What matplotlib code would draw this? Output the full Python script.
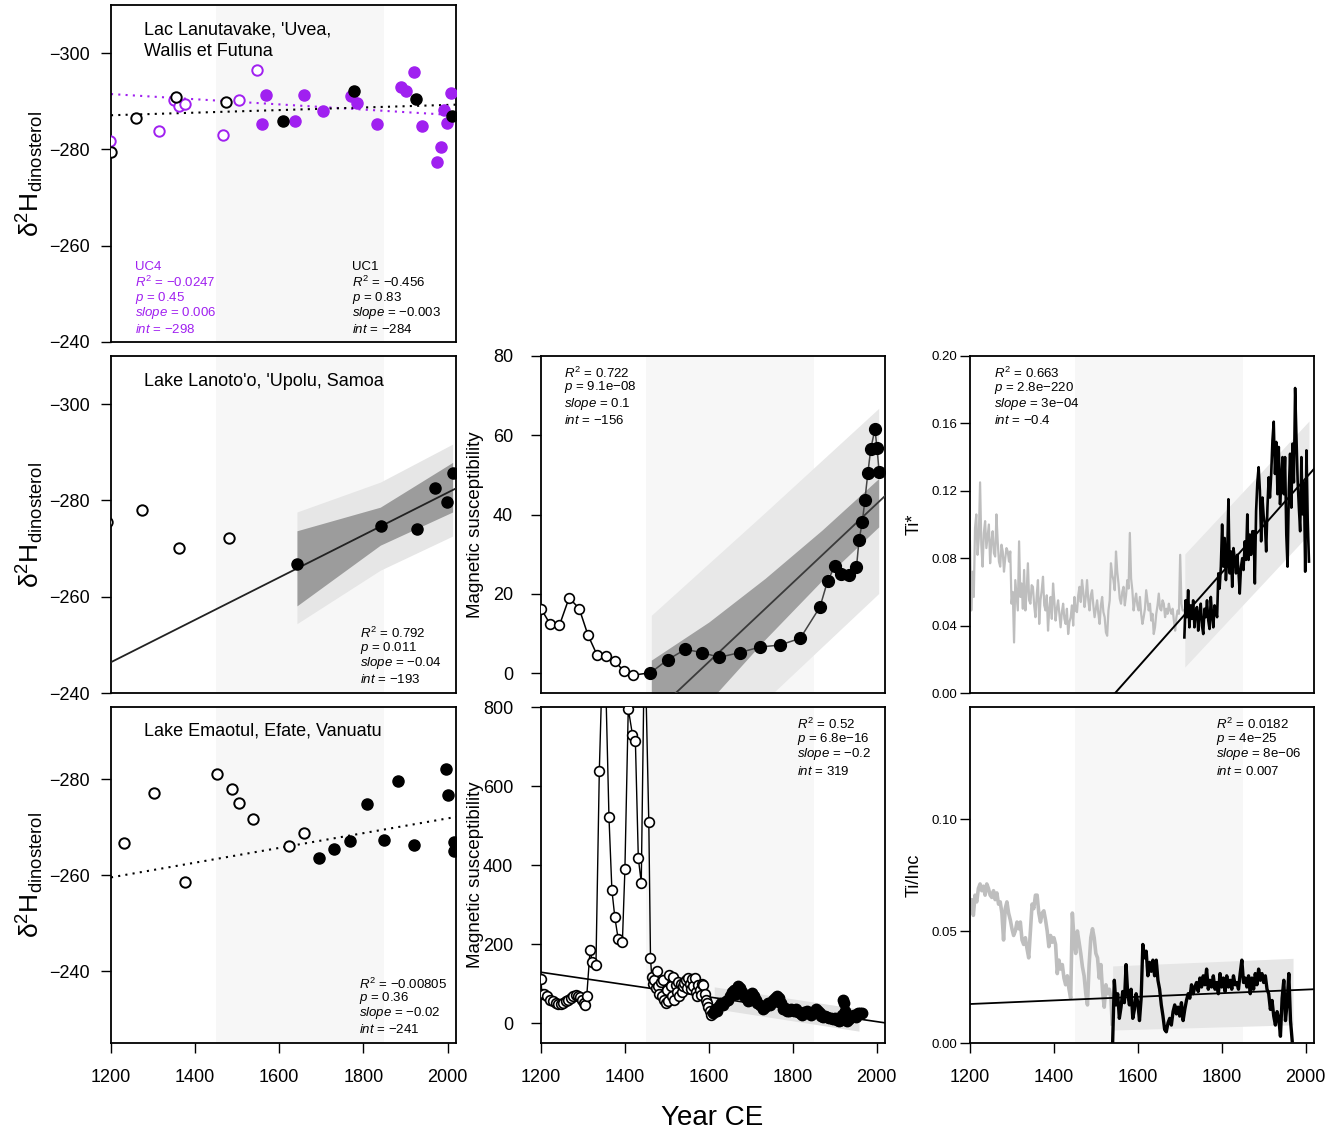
import matplotlib
matplotlib.use('Agg')
import matplotlib.pyplot as plt

plt.rcParams['font.family'] = ['Liberation Sans', 'DejaVu Sans']
plt.rcParams['mathtext.fontset'] = 'custom'
plt.rcParams['mathtext.rm'] = 'Liberation Sans'
plt.rcParams['mathtext.it'] = 'Liberation Sans:italic'
plt.rcParams['mathtext.bf'] = 'Liberation Sans:bold'
plt.rcParams['axes.unicode_minus'] = True

# ---------------- DATA ----------------
FIT_YR = [1200, 2020]
SHADE = [1450, 1850]

# Lac Lanutavake
lan_uc1_open_yr = [1201, 1259, 1354, 1474]
lan_uc1_open_d = [-279.4, -286.6, -290.8, -289.9]
lan_uc1_fill_yr = [1608, 1777, 1926, 2010]
lan_uc1_fill_d = [-286.0, -292.2, -290.5, -286.9]
lan_uc4_open_yr = [1197, 1313, 1350, 1362, 1376, 1466, 1504, 1547]
lan_uc4_open_d = [-281.7, -283.9, -290.3, -289.1, -289.5, -282.9, -290.2, -296.6]
lan_uc4_fill_yr = [1560, 1569, 1637, 1659, 1704, 1770, 1785, 1833, 1890, 1901,
                   1920, 1939, 1975, 1985, 1992, 1999, 2007]
lan_uc4_fill_d = [-285.3, -291.3, -286.0, -291.4, -288.0, -291.2, -289.7, -285.2,
                  -293.0, -292.1, -296.1, -284.8, -277.3, -280.6, -288.2, -285.5, -291.8]
lan_uc4_fit = [-291.5, -287.1]
lan_uc1_fit = [-287.1, -289.3]

# Lake Lanoto'o
lnt_open_yr = [1190, 1273, 1362, 1480]
lnt_open_d = [-275.5, -278.0, -270.2, -272.1]
lnt_fill_yr = [1642, 1841, 1927, 1971, 1998, 2012]
lnt_fill_d = [-266.7, -274.7, -274.1, -282.5, -279.7, -285.6]
lnt_fit = [-246.4, -282.5]
lnt_band_yr = [1642, 1840, 2012]
lnt_in_lo = [-258.1, -270.7, -277.6]
lnt_in_hi = [-273.7, -278.6, -287.9]
lnt_out_lo = [-254.4, -265.5, -272.6]
lnt_out_hi = [-277.6, -283.8, -291.7]

# Lake Emaotul
ema_open_yr = [1231, 1302, 1377, 1452, 1488, 1505, 1538, 1623, 1658]
ema_open_d = [-266.7, -277.0, -258.6, -281.0, -277.9, -275.0, -271.6, -266.1, -268.7]
ema_fill_yr = [1695, 1729, 1768, 1808, 1848, 1883, 1919, 1996, 2001, 2015, 2015]
ema_fill_d = [-263.6, -265.5, -267.1, -274.8, -267.2, -279.5, -266.3, -282.0, -276.7, -266.9, -265.1]
ema_fit = [-259.5, -272.1]

# Magnetic susceptibility, Lanoto'o
ms1_open_yr = [1200, 1221, 1244, 1267, 1291, 1312, 1334, 1356, 1377, 1397, 1419]
ms1_open = [16.3, 12.5, 12.1, 19.0, 16.3, 9.6, 4.5, 4.3, 3.0, 0.5, -0.5]
ms1_fill_yr = [1461, 1502, 1544, 1584, 1625, 1674, 1722, 1770, 1818, 1865, 1883, 1901,
               1916, 1934, 1952, 1958, 1966, 1972, 1979, 1986, 1996, 2001, 2006]
ms1_fill = [0.1, 3.4, 6.0, 5.2, 4.0, 5.2, 6.6, 7.1, 8.8, 16.7, 23.2, 27.1,
            24.9, 24.7, 26.7, 33.5, 38.2, 43.6, 50.4, 56.5, 61.6, 56.7, 50.8]
ms1_fit = [-37.0, 44.7]
ms1_out_yr = [1463, 1734, 2005]
ms1_out_hi = [14.6, 40.5, 66.8]
ms1_out_lo = [-33.9, -6.9, 20.1]
ms1_in_yr = [1463, 1600, 1734, 1870, 2005]
ms1_in_hi = [3.3, 12.9, 23.9, 36.1, 49.1]
ms1_in_lo = [-24.9, -7.2, 8.5, 23.4, 36.9]

# Magnetic susceptibility, Emaotul
ms2_open_yr = [1200, 1202, 1206, 1214, 1222, 1229, 1235, 1241, 1247, 1253, 1259, 1265,
               1271, 1277, 1283, 1289, 1294, 1298, 1302, 1306, 1309, 1317, 1322, 1331,
               1339, 1350, 1362, 1369, 1376, 1384, 1394, 1400, 1408, 1418, 1425, 1432,
               1439, 1447, 1457, 1461,
               1464, 1467, 1470, 1473, 1476, 1479, 1482, 1485, 1488, 1491, 1494, 1497,
               1500, 1503, 1506, 1509, 1512, 1515, 1518, 1521, 1524, 1527, 1530, 1533,
               1536, 1539, 1542, 1545, 1548, 1551, 1554, 1557, 1560, 1563, 1566, 1569,
               1572, 1575, 1578, 1581, 1584, 1587, 1590, 1593, 1596, 1599, 1602, 1605]
ms2_open = [112, 73, 75, 68, 60, 55, 50, 48, 48, 52, 55, 60,
            65, 68, 72, 70, 66, 58, 50, 46, 68, 186, 156, 148,
            638, 1050, 522, 337, 268, 213, 205, 389, 796, 730, 713, 417,
            356, 1000, 508, 165,
            118, 100, 110, 88, 131, 95, 75, 104, 70, 110, 60, 50,
            85, 55, 123, 95, 70, 118, 60, 96, 80, 104, 70, 100,
            79, 95, 103, 109, 90, 114, 100, 86, 112, 95, 114, 80,
            69, 96, 85, 72, 98, 96, 75, 60, 50, 40, 30, 22]
ms2_fill_yr = [1609, 1614, 1619, 1625, 1630, 1635, 1640, 1645, 1650, 1655, 1660, 1665,
               1670, 1675, 1680, 1685, 1689, 1694, 1699, 1704, 1708, 1712, 1716, 1722,
               1728, 1734, 1740, 1746, 1752, 1758, 1763, 1768, 1772, 1776, 1782, 1787,
               1792, 1797, 1802, 1808, 1813, 1818, 1823, 1828, 1834, 1839, 1844, 1849,
               1855, 1860, 1864, 1867, 1872, 1877, 1882, 1887, 1892, 1897, 1902, 1906,
               1910, 1914, 1918, 1920, 1922, 1924, 1926, 1930, 1935, 1940, 1945, 1950,
               1955, 1960, 1965]
ms2_fill = [26, 35, 30, 43, 50, 45, 55, 60, 70, 80, 85, 75,
            93, 90, 80, 70, 64, 55, 60, 77, 70, 60, 51, 45,
            35, 40, 51, 45, 60, 65, 68, 65, 50, 35, 38, 30,
            30, 35, 30, 35, 28, 25, 22, 28, 30, 26, 20, 28,
            35, 30, 25, 18, 15, 18, 15, 14, 12, 10, 12, 9,
            5, 8, 20, 60, 50, 30, 9, 5, 10, 18, 22, 15,
            25, 26, 27]
ms2_fit = [129, 1]
ms2_band_yr = [1613, 1958]
ms2_band_hi = [92, 36]
ms2_band_lo = [37, -20]

# Ti*, Lanoto'o (grey = before 1710, black = after)
tis_gray_yr = [1200, 1203, 1206, 1209, 1212, 1215, 1218, 1221, 1224, 1227,
               1230, 1233, 1236, 1239, 1242, 1245, 1248, 1251, 1254, 1257,
               1260, 1263, 1266, 1269, 1272, 1275, 1278, 1281, 1284, 1287,
               1290, 1293, 1296, 1299, 1302, 1305, 1308, 1311, 1314, 1317,
               1320, 1323, 1326, 1329, 1332, 1335, 1338, 1341, 1344, 1347,
               1350, 1353, 1356, 1359, 1362, 1365, 1368, 1371, 1374, 1377,
               1380, 1383, 1386, 1389, 1392, 1395, 1398, 1401, 1404, 1407,
               1410, 1413, 1416, 1419, 1422, 1425, 1428, 1431, 1434, 1437,
               1440, 1443, 1446, 1449, 1452, 1455, 1458, 1461, 1464, 1467,
               1470, 1473, 1476, 1479, 1482, 1485, 1488, 1491, 1494, 1497,
               1500, 1503, 1506, 1509, 1512, 1515, 1518, 1521, 1524, 1527,
               1530, 1533, 1536, 1539, 1542, 1545, 1548, 1551, 1554, 1557,
               1560, 1563, 1566, 1569, 1572, 1575, 1578, 1581, 1584, 1587,
               1590, 1593, 1596, 1599, 1602, 1605, 1608, 1611, 1614, 1617,
               1620, 1623, 1626, 1629, 1632, 1635, 1638, 1641, 1644, 1647,
               1650, 1653, 1656, 1659, 1662, 1665, 1668, 1671, 1674, 1677,
               1680, 1683, 1686, 1689, 1692, 1695, 1698, 1701, 1704, 1707,
               1710]
tis_gray = [0.090, 0.049, 0.072, 0.057, 0.098, 0.106, 0.082, 0.092, 0.125, 0.088,
            0.075, 0.095, 0.102, 0.086, 0.093, 0.100, 0.077, 0.090, 0.096, 0.083,
            0.081, 0.106, 0.090, 0.078, 0.075, 0.088, 0.084, 0.072, 0.080, 0.086,
            0.084, 0.078, 0.084, 0.053, 0.060, 0.030, 0.067, 0.058, 0.049, 0.090,
            0.057, 0.065, 0.050, 0.073, 0.049, 0.060, 0.077, 0.055, 0.053, 0.064,
            0.063, 0.052, 0.045, 0.058, 0.067, 0.041, 0.055, 0.061, 0.069, 0.052,
            0.049, 0.058, 0.037, 0.050, 0.057, 0.044, 0.065, 0.055, 0.043, 0.050,
            0.055, 0.047, 0.039, 0.048, 0.053, 0.044, 0.041, 0.050, 0.035, 0.042,
            0.045, 0.052, 0.040, 0.057, 0.049, 0.048, 0.058, 0.063, 0.054, 0.067,
            0.060, 0.051, 0.057, 0.067, 0.055, 0.049, 0.058, 0.061, 0.052, 0.045,
            0.050, 0.055, 0.047, 0.041, 0.052, 0.057, 0.048, 0.045, 0.036, 0.034,
            0.049, 0.055, 0.077, 0.070, 0.067, 0.061, 0.084, 0.072, 0.065, 0.056,
            0.053, 0.060, 0.063, 0.052, 0.058, 0.067, 0.062, 0.095, 0.068, 0.061,
            0.049, 0.055, 0.059, 0.052, 0.049, 0.057, 0.047, 0.041, 0.045, 0.050,
            0.061, 0.055, 0.049, 0.053, 0.043, 0.047, 0.035, 0.039, 0.047, 0.052,
            0.059, 0.050, 0.049, 0.055, 0.053, 0.045, 0.050, 0.047, 0.053, 0.049,
            0.047, 0.050, 0.043, 0.037, 0.045, 0.049, 0.047, 0.082, 0.053, 0.049,
            0.049]
tis_blk_yr = [1711, 1714, 1717, 1720, 1723, 1726, 1729, 1732, 1735, 1738,
              1741, 1744, 1747, 1750, 1753, 1756, 1759, 1762, 1765, 1768,
              1771, 1774, 1777, 1780, 1783, 1786, 1789, 1792, 1795, 1798,
              1801, 1804, 1807, 1810, 1813, 1816, 1819, 1822, 1825, 1828,
              1831, 1834, 1837, 1840, 1843, 1846, 1849, 1852, 1855, 1858,
              1861, 1864, 1867, 1870, 1873, 1876, 1879, 1882, 1885, 1888,
              1891, 1894, 1897, 1900, 1903, 1906, 1909, 1912, 1915, 1918,
              1921, 1924, 1927, 1930, 1933, 1936, 1939, 1942, 1945, 1948,
              1951, 1954, 1957, 1960, 1963, 1966, 1969, 1972, 1975, 1978,
              1981, 1984, 1987, 1990, 1993, 1996, 1999, 2002, 2005, 2008]
tis_blk = [0.033, 0.055, 0.045, 0.061, 0.039, 0.052, 0.044, 0.055, 0.039, 0.049,
           0.051, 0.037, 0.047, 0.053, 0.040, 0.035, 0.050, 0.045, 0.055, 0.043,
           0.038, 0.057, 0.046, 0.039, 0.052, 0.049, 0.045, 0.071, 0.062, 0.075,
           0.100, 0.075, 0.092, 0.067, 0.080, 0.115, 0.071, 0.084, 0.063, 0.086,
           0.080, 0.071, 0.082, 0.072, 0.059, 0.075, 0.080, 0.073, 0.090, 0.079,
           0.106, 0.079, 0.094, 0.082, 0.096, 0.096, 0.065, 0.108, 0.125, 0.134,
           0.120, 0.090, 0.116, 0.105, 0.100, 0.084, 0.110, 0.128, 0.116, 0.130,
           0.150, 0.161, 0.130, 0.149, 0.118, 0.146, 0.112, 0.126, 0.140, 0.118,
           0.140, 0.094, 0.075, 0.120, 0.142, 0.110, 0.148, 0.125, 0.181, 0.153,
           0.126, 0.110, 0.096, 0.140, 0.106, 0.125, 0.072, 0.144, 0.102, 0.078]
tis_fit = [-0.0971, 0.1330]
tis_band_yr = [1712, 2008]
tis_band_hi = [0.0825, 0.1614]
tis_band_lo = [0.0154, 0.0943]

# Ti/Inc, Emaotul (grey = before 1540, black = after)
tin_gray_yr = [1200, 1204, 1208, 1212, 1216, 1220, 1224, 1228, 1232, 1236,
               1240, 1244, 1248, 1252, 1256, 1260, 1264, 1268, 1272, 1276,
               1280, 1284, 1288, 1292, 1296, 1300, 1304, 1308, 1312, 1316,
               1320, 1324, 1328, 1332, 1336, 1340, 1344, 1348, 1352, 1356,
               1360, 1364, 1368, 1372, 1376, 1380, 1384, 1388, 1392, 1396,
               1400, 1404, 1408, 1412, 1416, 1420, 1424, 1428, 1432, 1436,
               1440, 1444, 1448, 1452, 1456, 1460, 1464, 1468, 1472, 1476,
               1480, 1484, 1488, 1492, 1496, 1500, 1504, 1508, 1512, 1516,
               1520, 1524, 1528, 1532, 1536, 1539]
tin_gray = [0.060, 0.064, 0.057, 0.066, 0.063, 0.069, 0.071, 0.068, 0.070, 0.066,
            0.071, 0.069, 0.066, 0.065, 0.068, 0.064, 0.067, 0.062, 0.063, 0.058,
            0.046, 0.060, 0.063, 0.058, 0.055, 0.051, 0.048, 0.050, 0.054, 0.051,
            0.054, 0.046, 0.044, 0.047, 0.042, 0.038, 0.050, 0.062, 0.060, 0.066,
            0.066, 0.058, 0.054, 0.058, 0.059, 0.055, 0.050, 0.043, 0.048, 0.045,
            0.047, 0.044, 0.031, 0.037, 0.033, 0.035, 0.029, 0.026, 0.030, 0.024,
            0.020, 0.058, 0.046, 0.040, 0.050, 0.045, 0.040, 0.034, 0.030, 0.022,
            0.017, 0.035, 0.047, 0.051, 0.047, 0.040, 0.038, 0.029, 0.035, 0.023,
            0.016, 0.026, 0.022, 0.024, 0.020, 0.0085]
tin_blk_yr = [1540, 1544, 1548, 1552, 1556, 1560, 1564, 1568, 1572, 1576,
              1580, 1584, 1588, 1592, 1596, 1600, 1604, 1608, 1612, 1616,
              1620, 1624, 1628, 1632, 1636, 1640, 1644, 1648, 1652, 1656,
              1660, 1664, 1668, 1672, 1676, 1680, 1684, 1688, 1692, 1696,
              1700, 1704, 1708, 1712, 1716, 1720, 1724, 1728, 1732, 1736,
              1740, 1744, 1748, 1752, 1756, 1760, 1764, 1768, 1772, 1776,
              1780, 1784, 1788, 1792, 1796, 1800, 1804, 1808, 1812, 1816,
              1820, 1824, 1828, 1832, 1836, 1840, 1844, 1848, 1852, 1856,
              1860, 1864, 1868, 1872, 1876, 1880, 1884, 1888, 1892, 1896,
              1900, 1904, 1908, 1912, 1916, 1920, 1924, 1928, 1932, 1936,
              1940, 1944, 1948, 1952, 1956, 1960, 1964, 1968]
tin_blk = [0.000, 0.028, 0.017, 0.022, 0.011, 0.016, 0.023, 0.018, 0.035, 0.022,
           0.017, 0.024, 0.011, 0.015, 0.022, 0.018, 0.010, 0.020, 0.044, 0.038,
           0.041, 0.030, 0.036, 0.032, 0.037, 0.030, 0.037, 0.028, 0.024, 0.017,
           0.012, 0.006, 0.005, 0.009, 0.011, 0.008, 0.014, 0.017, 0.013, 0.016,
           0.012, 0.018, 0.010, 0.015, 0.019, 0.022, 0.020, 0.026, 0.022, 0.025,
           0.027, 0.023, 0.029, 0.025, 0.030, 0.026, 0.033, 0.024, 0.028, 0.025,
           0.030, 0.024, 0.027, 0.022, 0.031, 0.025, 0.029, 0.023, 0.030, 0.025,
           0.028, 0.024, 0.030, 0.026, 0.027, 0.024, 0.031, 0.037, 0.027, 0.029,
           0.025, 0.030, 0.022, 0.029, 0.024, 0.031, 0.026, 0.033, 0.028, 0.031,
           0.027, 0.030, 0.024, 0.022, 0.015, 0.019, 0.012, 0.008, 0.014, 0.011,
           0.003, 0.020, 0.028, 0.010, 0.018, 0.031, 0.010, 0.001]
tin_fit = [0.0174, 0.0240]
tin_band_yr = [1540, 1970]
tin_band_hi = [0.0344, 0.0378]
tin_band_lo = [0.0058, 0.0081]

XTICKS = [1200, 1400, 1600, 1800, 2000]

# ---------------- FIGURE ----------------
W, H = 1339, 1136
fig = plt.figure(figsize=(W / 100, H / 100), dpi=100)

SHADE_C = '#f7f7f7'
PURPLE = '#a020f0'
GRAYLINE = '#bebebe'
STAT_FS = 9.5


def add_ax(x0, y0, x1, y1):
    return fig.add_axes([x0 / W, 1 - y1 / H, (x1 - x0) / W, (y1 - y0) / H])


def style(ax, bottom_row, ytick_size=13, ypad=8):
    for s in ax.spines.values():
        s.set_linewidth(1.3)
    ax.set_xlim(1200, 2020)
    ax.tick_params(axis='y', direction='out', length=7, width=1, labelsize=ytick_size, pad=ypad)
    if bottom_row:
        ax.set_xticks(XTICKS)
        ax.tick_params(axis='x', direction='out', length=7, width=1, labelsize=13, pad=12)
    else:
        ax.tick_params(axis='x', bottom=False, labelbottom=False)
    ax.axvspan(SHADE[0], SHADE[1], color=SHADE_C, lw=0, zorder=0)


def ftext(x, y, s, **kw):
    kw.setdefault('va', 'center')
    kw.setdefault('ha', 'left')
    fig.text(x / W, 1 - y / H, s, **kw)


def stats(x, ys, lines, color='black', size=STAT_FS):
    for y, s in zip(ys, lines):
        ftext(x, y, s, color=color, fontsize=size, va='baseline')


def open_pts(ax, x, y, color='black', ms=7.5, mew=1.4, z=4):
    ax.plot(x, y, 'o', ms=ms, mfc='white', mec=color, mew=mew, ls='none', zorder=z)


def fill_pts(ax, x, y, color='black', ms=8, z=5):
    ax.plot(x, y, 'o', ms=ms, mfc=color, mec=color, mew=1, ls='none', zorder=z)


# Panel A: Lac Lanutavake
axA = add_ax(111, 5, 456, 342)
style(axA, False)
axA.set_ylim(-240, -310)
axA.set_yticks([-300, -280, -260, -240])
axA.plot(FIT_YR, lan_uc4_fit, ls=(0, (1, 2.5)), color=PURPLE, lw=1.5, zorder=2)
axA.plot(FIT_YR, lan_uc1_fit, ls=(0, (1, 2.5)), color='black', lw=1.5, zorder=2)
open_pts(axA, lan_uc4_open_yr, lan_uc4_open_d, color=PURPLE)
fill_pts(axA, lan_uc4_fill_yr, lan_uc4_fill_d, color=PURPLE)
open_pts(axA, lan_uc1_open_yr, lan_uc1_open_d)
fill_pts(axA, lan_uc1_fill_yr, lan_uc1_fill_d)
ftext(144, 30, "Lac Lanutavake, 'Uvea,", fontsize=13)
ftext(144, 51, "Wallis et Futuna", fontsize=13)
stats(135, [270, 287, 301, 316, 333],
      ['UC4', r'$R^2$ = −0.0247', r'$p$ = 0.45', r'$slope$ = 0.006', r'$int$ = −298'], color=PURPLE)
stats(352, [270, 287, 301, 316, 333],
      ['UC1', r'$R^2$ = −0.456', r'$p$ = 0.83', r'$slope$ = −0.003', r'$int$ = −284'])

# Panel B: Lake Lanoto'o
axB = add_ax(111, 356, 456, 693)
style(axB, False)
axB.set_ylim(-240, -310)
axB.set_yticks([-300, -280, -260, -240])
axB.fill_between(lnt_band_yr, lnt_out_lo, lnt_out_hi, color='#e6e6e6', lw=0, zorder=1)
axB.fill_between(lnt_band_yr, lnt_in_lo, lnt_in_hi, color='#9c9c9c', lw=0, zorder=2)
axB.plot(FIT_YR, lnt_fit, color='#222222', lw=1.3, zorder=3)
open_pts(axB, lnt_open_yr, lnt_open_d)
fill_pts(axB, lnt_fill_yr, lnt_fill_d)
ftext(144, 381, "Lake Lanoto'o, 'Upolu, Samoa", fontsize=13)
stats(360, [638, 651, 666, 683],
      [r'$R^2$ = 0.792', r'$p$ = 0.011', r'$slope$ = −0.04', r'$int$ = −193'])

# Panel C: Lake Emaotul
axC = add_ax(111, 707, 456, 1043)
style(axC, True)
axC.set_ylim(-225, -295)
axC.set_yticks([-280, -260, -240])
axC.plot(FIT_YR, ema_fit, ls=(0, (1, 2.5)), color='black', lw=1.5, zorder=2)
open_pts(axC, ema_open_yr, ema_open_d)
fill_pts(axC, ema_fill_yr, ema_fill_d)
ftext(144, 731, "Lake Emaotul, Efate, Vanuatu", fontsize=13)
stats(359, [989, 1001, 1016, 1033],
      [r'$R^2$ = −0.00805', r'$p$ = 0.36', r'$slope$ = −0.02', r'$int$ = −241'])

# Panel D: magnetic susceptibility Lanoto'o
axD = add_ax(541, 356, 885, 693)
style(axD, False, ypad=13)
axD.set_ylim(-5, 80)
axD.set_yticks([0, 20, 40, 60, 80])
axD.fill_between(ms1_out_yr, ms1_out_lo, ms1_out_hi, color='#e8e8e8', lw=0, zorder=1)
axD.fill_between(ms1_in_yr, ms1_in_lo, ms1_in_hi, color='#a0a0a0', lw=0, zorder=2)
axD.plot(FIT_YR, ms1_fit, color='#3a3a3a', lw=1.3, zorder=3)
axD.plot(ms1_open_yr + ms1_fill_yr[:1], ms1_open + ms1_fill[:1], color='black', lw=1.1, zorder=3)
axD.plot(ms1_fill_yr, ms1_fill, color='#444444', lw=1.1, zorder=3)
open_pts(axD, ms1_open_yr, ms1_open, ms=7, mew=1.2)
fill_pts(axD, ms1_fill_yr, ms1_fill, ms=8.5)
stats(564, [378, 390, 407, 424],
      [r'$R^2$ = 0.722', r'$p$ = 9.1e−08', r'$slope$ = 0.1', r'$int$ = −156'])

# Panel E: magnetic susceptibility Emaotul
axE = add_ax(541, 707, 885, 1043)
style(axE, True, ypad=13)
axE.set_ylim(-50, 800)
axE.set_yticks([0, 200, 400, 600, 800])
axE.fill_between(ms2_band_yr, ms2_band_lo, ms2_band_hi, color='#e2e2e2', lw=0, zorder=1)
axE.plot(FIT_YR, ms2_fit, color='black', lw=1.2, zorder=2)
axE.plot(ms2_open_yr + ms2_fill_yr, ms2_open + ms2_fill, color='black', lw=1.0, zorder=3)
open_pts(axE, ms2_open_yr, ms2_open, ms=7, mew=1.2)
fill_pts(axE, ms2_fill_yr, ms2_fill, ms=7.5)
stats(797, [729, 742, 757, 775],
      [r'$R^2$ = 0.52', r'$p$ = 6.8e−16', r'$slope$ = −0.2', r'$int$ = 319'])

# Panel F: Ti*
axF = add_ax(970, 356, 1314, 693)
style(axF, False, ytick_size=9.5, ypad=2)
axF.set_ylim(0, 0.20)
axF.set_yticks([0.00, 0.04, 0.08, 0.12, 0.16, 0.20])
axF.set_yticklabels(['0.00', '0.04', '0.08', '0.12', '0.16', '0.20'])
axF.fill_between(tis_band_yr, tis_band_lo, tis_band_hi, color='#e8e8e8', lw=0, zorder=1)
axF.plot(tis_gray_yr, tis_gray, color=GRAYLINE, lw=1.6, zorder=2)
axF.plot(FIT_YR, tis_fit, color='black', lw=1.4, zorder=3)
axF.plot(tis_blk_yr, tis_blk, color='black', lw=1.9, zorder=4)
stats(994, [378, 391, 407, 424],
      [r'$R^2$ = 0.663', r'$p$ = 2.8e−220', r'$slope$ = 3e−04', r'$int$ = −0.4'])

# Panel G: Ti/Inc
axG = add_ax(970, 707, 1314, 1043)
style(axG, True, ytick_size=9.5, ypad=2)
axG.set_ylim(0, 0.15)
axG.set_yticks([0.00, 0.05, 0.10])
axG.set_yticklabels(['0.00', '0.05', '0.10'])
axG.fill_between(tin_band_yr, tin_band_lo, tin_band_hi, color='#e6e6e6', lw=0, zorder=1)
axG.plot(tin_gray_yr, tin_gray, color=GRAYLINE, lw=2.6, zorder=2)
axG.plot(FIT_YR, tin_fit, color='black', lw=1.3, zorder=3)
axG.plot(tin_blk_yr, tin_blk, color='black', lw=2.4, zorder=4)
stats(1216, [729, 742, 757, 775],
      [r'$R^2$ = 0.0182', r'$p$ = 4e−25', r'$slope$ = 8e−06', r'$int$ = 0.007'])

# Axis labels
ylab = r'$\mathregular{δ^2H_{dinosterol}}$'
for yc in [(5 + 342) / 2, (356 + 693) / 2, (707 + 1043) / 2]:
    ftext(30, yc, ylab, fontsize=19, rotation=90, ha='center')
ftext(476, (356 + 693) / 2, 'Magnetic susceptibility', fontsize=13.5, rotation=90, ha='center')
ftext(476, (707 + 1043) / 2, 'Magnetic susceptibility', fontsize=13.5, rotation=90, ha='center')
ftext(914, (356 + 693) / 2, 'Ti*', fontsize=13, rotation=90, ha='center')
ftext(914, (707 + 1043) / 2, 'Ti/Inc', fontsize=13, rotation=90, ha='center')
ftext(712, 1118, 'Year CE', fontsize=20, ha='center')

fig.savefig('out.png', dpi=100)
